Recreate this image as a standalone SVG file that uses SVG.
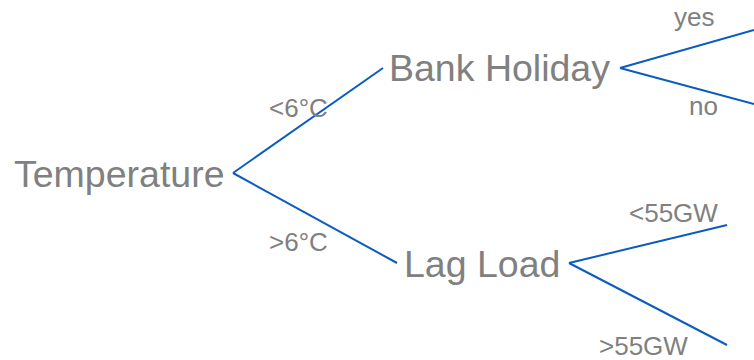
<svg xmlns="http://www.w3.org/2000/svg" width="754" height="360" viewBox="0 0 754 360">
<style>
.n{font-family:"Liberation Sans",Arial,sans-serif;font-size:37.5px;fill:#808080}
.l{font-family:"Liberation Sans",Arial,sans-serif;font-size:26px;fill:#808080}
.c line{stroke:#0a5cbf;stroke-width:2;fill:none}
</style>
<rect width="754" height="360" fill="#ffffff"/>
<g class="c" id="connectors">
<line x1="233" y1="173" x2="383" y2="68"/>
<line x1="233" y1="173" x2="397" y2="263"/>
<line x1="620" y1="68" x2="754" y2="30"/>
<line x1="620" y1="68" x2="754" y2="104"/>
<line x1="569" y1="263" x2="727" y2="225"/>
<line x1="569" y1="263" x2="727" y2="345"/>
</g>
<g id="temperature"><text class="n" x="14" y="187">Temperature</text></g>
<g id="bank-holiday"><text class="n" x="389" y="81">Bank Holiday</text></g>
<g id="lag-load"><text class="n" x="404" y="277">Lag Load</text></g>
<g id="labels">
<text class="l" x="269" y="117">&lt;6°C</text>
<text class="l" x="269" y="251">&gt;6°C</text>
<text class="l" x="674" y="26">yes</text>
<text class="l" x="689" y="115">no</text>
<text class="l" x="629" y="222">&lt;55GW</text>
<text class="l" x="599" y="355">&gt;55GW</text>
</g>
</svg>
